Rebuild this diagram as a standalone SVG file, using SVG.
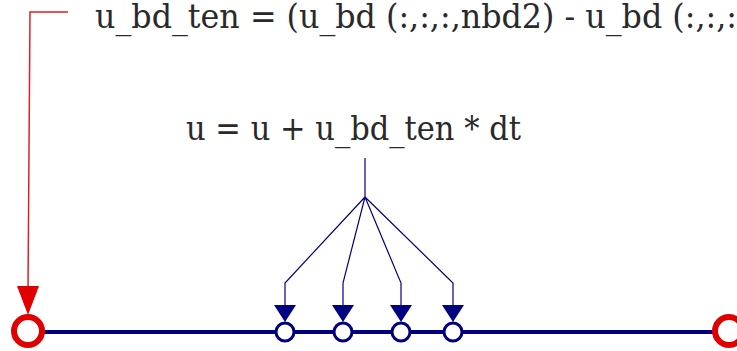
<svg xmlns="http://www.w3.org/2000/svg" width="737" height="351" viewBox="0 0 737 351">
<style>
.t{font-family:"DejaVu Serif","Liberation Serif",serif;font-size:33px;fill:#2a2a2a}
.bl{stroke:#000080;fill:none}
.bn{fill:#fff;stroke:#000080;stroke-width:3}
.rn{fill:#fff;stroke:#e00000;stroke-width:6}
.ba{fill:#000080}
</style>
<rect width="737" height="351" fill="#fff"/>
<text class="t" x="95" y="28" textLength="642" lengthAdjust="spacingAndGlyphs">u_bd_ten = (u_bd (:,:,:,nbd2) - u_bd (:,:,:</text>
<text class="t" x="186" y="140" textLength="335" lengthAdjust="spacingAndGlyphs">u = u + u_bd_ten * dt</text>
<g id="connectors">
<path class="bl" stroke-width="4" d="M40 332H715"/>
<path d="M68 12H30L28 290" stroke="#e02020" stroke-width="1.5" fill="none"/>
<path d="M17 286H39L28 315Z" fill="#e00000"/>
<path class="bl" stroke-width="1.2" d="M365 158V197M365 197L285 283V306M365 197L343 283V306M365 197L401 283V306M365 197L453 283V306"/>
<path class="ba" d="M274 305H296L285 322Z M332 305H354L343 322Z M390 305H412L401 322Z M442 305H464L453 322Z"/>
</g>
<g id="n1"><circle class="rn" cx="28" cy="331" r="14"/></g>
<g id="n2"><circle class="bn" cx="285" cy="332" r="9"/></g>
<g id="n3"><circle class="bn" cx="343" cy="332" r="9"/></g>
<g id="n4"><circle class="bn" cx="401" cy="332" r="9"/></g>
<g id="n5"><circle class="bn" cx="453" cy="332" r="9"/></g>
<g id="n6"><circle class="rn" cx="729" cy="331" r="14"/></g>
</svg>
